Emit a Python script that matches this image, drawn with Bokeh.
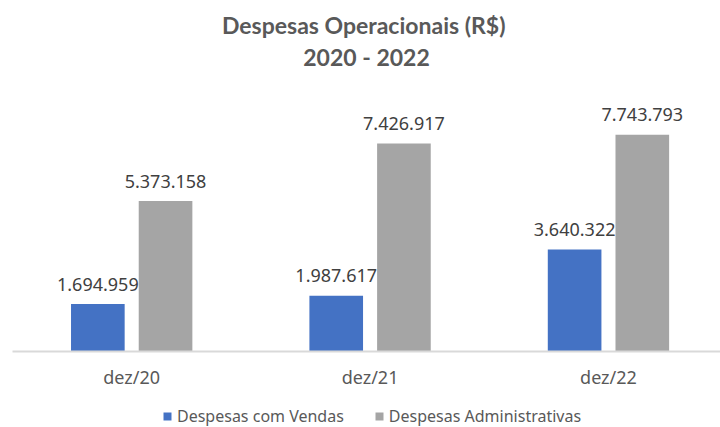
from bokeh.plotting import figure
from bokeh.layouts import column
from bokeh.models import Range1d, ColumnDataSource, Legend, LegendItem, Title
from bokeh.core.properties import value
from bokeh.embed import file_html
from bokeh.resources import INLINE

categories = ["dez/20", "dez/21", "dez/22"]
vendas = [1694959, 1987617, 3640322]
administrativas = [5373158, 7426917, 7743793]
series_names = ["Despesas com Vendas", "Despesas Administrativas"]
title_lines = ["Despesas Operacionais  (R$)", "2020 - 2022"]

BLUE = "#4472C4"
GRAY = "#A5A5A5"

def fmt(v):
    return f"{v:,}".replace(",", ".")

idx = list(range(len(categories)))
off = 0.142
bw = 0.225
src_v = ColumnDataSource(dict(x=[i - off for i in idx], y=vendas, lab=[fmt(v) for v in vendas]))
src_a = ColumnDataSource(dict(x=[i + off for i in idx], y=administrativas, lab=[fmt(v) for v in administrativas]))

p = figure(width=720, height=400, output_backend="svg", toolbar_location=None,
           x_range=Range1d(-0.5, 2.47), y_range=Range1d(0, 10000000),
           min_border_left=12, min_border_right=0, min_border_top=71, min_border_bottom=49)
p.frame_width = 708
p.frame_height = 280
p.outline_line_color = None
p.xgrid.visible = False
p.ygrid.visible = False
p.yaxis.visible = False
p.background_fill_color = "white"
p.border_fill_color = "white"

p.vbar(x="x", top="y", width=bw, source=src_v, fill_color=BLUE, line_color=None)
p.vbar(x="x", top="y", width=bw, source=src_a, fill_color=GRAY, line_color=None)

for src in (src_v, src_a):
    p.text(x="x", y="y", text="lab", source=src, text_align="center", text_baseline="middle",
           y_offset=-20, text_font=value("Noto Sans"), text_font_size="18px", text_color="#404040")

xa = p.xaxis[0]
xa.ticker = idx
xa.major_label_overrides = {i: c for i, c in zip(idx, categories)}
xa.major_tick_line_color = None
xa.minor_tick_line_color = None
xa.major_tick_out = 0
xa.minor_tick_out = 0
xa.major_tick_in = 0
xa.minor_tick_in = 0
xa.axis_label_standoff = 0
xa.axis_line_color = "#D9D9D9"
xa.axis_line_width = 2
xa.major_label_standoff = 13
xa.major_label_text_font = "Noto Sans"
xa.major_label_text_font_size = "18px"
xa.major_label_text_color = "#595959"

p.add_layout(Title(text=title_lines[1], align="center", text_font="Lato", text_font_style="bold",
                   text_font_size="23px", text_color="#595959", standoff=2), "above")
p.add_layout(Title(text=title_lines[0], align="center", text_font="Lato", text_font_style="bold",
                   text_font_size="23px", text_color="#595959", standoff=2), "above")

# legend strip below the chart (key renderers sit outside the visible range)
lg = figure(width=720, height=27, output_backend="svg", toolbar_location=None,
            x_range=Range1d(0, 1), y_range=Range1d(0, 1),
            x_axis_location=None, y_axis_location=None,
            min_border_left=0, min_border_right=0, min_border_top=0, min_border_bottom=0)
lg.outline_line_color = None
lg.xgrid.visible = False
lg.ygrid.visible = False
lg.background_fill_color = "white"
lg.border_fill_color = "white"
k1 = lg.vbar(x=[5], top=[1], width=0.1, fill_color=BLUE, line_color=None)
k2 = lg.vbar(x=[5], top=[1], width=0.1, fill_color=GRAY, line_color=None)

legend = Legend(items=[LegendItem(label=series_names[0], renderers=[k1]),
                       LegendItem(label=series_names[1], renderers=[k2])],
                orientation="horizontal", location=(150, 0),
                background_fill_alpha=0, border_line_color=None,
                label_text_font="Noto Sans", label_text_font_size="16px", label_text_color="#595959",
                label_height=16, glyph_width=10, glyph_height=10, spacing=30, label_standoff=5,
                padding=0, margin=0)
lg.add_layout(legend)

layout = column(p, lg, spacing=0)
open("out.html", "w").write(file_html(layout, INLINE))
